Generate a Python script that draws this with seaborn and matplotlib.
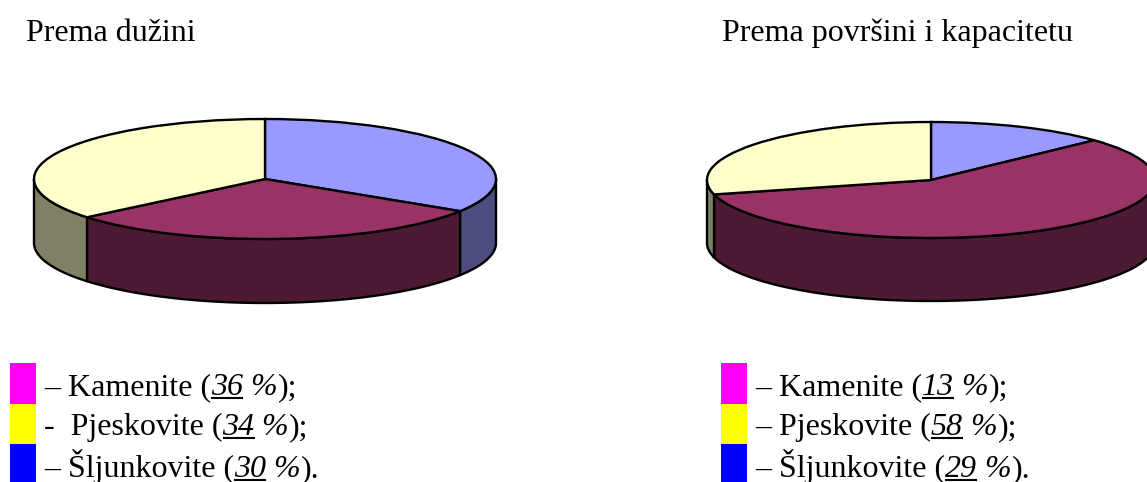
import numpy as np
import matplotlib
matplotlib.use("Agg")
import matplotlib.pyplot as plt
import seaborn as sns

# slice sizes, clockwise from the top
slice_names = ["blue", "maroon", "yellow"]
left_values = [34, 30, 36]
right_values = [13, 58, 29]

titles = ["Prema dužini", "Prema površini i kapacitetu"]

legend_names = ["Kamenite", "Pjeskovite", "Šljunkovite"]
legend_left = ["36", "34", "30"]
legend_right = ["13", "58", "29"]
legend_dash_left = ["– ", "-  ", "– "]
legend_dash_right = ["– ", "– ", "– "]

top_colors = sns.color_palette(["#9999FF", "#993366", "#FFFFCC"])
side_colors = sns.color_palette(["#4D4D80", "#4D1A33", "#808066"])
swatch_colors = sns.color_palette(["#FF00FF", "#FFFF00", "#0000FF"])

sns.set_theme(style="white")
plt.rcParams["font.family"] = ["Liberation Serif", "DejaVu Serif"]

W, H = 1147, 482
FONT = 23
fig = plt.figure(figsize=(W / 100, H / 100), dpi=100, facecolor="white")


def draw_pie(values, cx, cy, rx, ry, depth):
    # axes box is placed so that the unit circle lands on the wanted ellipse
    d = depth / ry
    pad = 0.1
    ax = fig.add_axes([(cx - rx * (1 + pad)) / W,
                       1 - (cy + ry * (1 + pad + d)) / H,
                       2 * rx * (1 + pad) / W,
                       ry * (2 + 2 * pad + d) / H])
    ax.patch.set_alpha(0)

    # side walls, only the lower half of the rim shows
    edges = 90 - np.cumsum([0] + list(values)) * 3.6
    for start, end, col in zip(edges[:-1], edges[1:], side_colors):
        a0, a1 = max(end, -180), min(start, 0)
        if a1 <= a0:
            continue
        t = np.radians(np.linspace(a0, a1, 80))
        xs = np.r_[np.cos(t), np.cos(t[::-1])]
        ys = np.r_[np.sin(t), np.sin(t[::-1]) - d]
        ax.fill(xs, ys, facecolor=col, edgecolor="black", linewidth=1.7, joinstyle="round")

    ax.pie(values, startangle=90, counterclock=False, radius=1, colors=top_colors,
           wedgeprops=dict(edgecolor="black", linewidth=1.7))
    ax.set_aspect("auto")
    ax.set_xlim(-1 - pad, 1 + pad)
    ax.set_ylim(-1 - d - pad, 1 + pad)
    ax.axis("off")


draw_pie(left_values, 265, 179, 231, 60, 64)
draw_pie(right_values, 931, 180, 224, 58, 63)

# overlay in pixel coordinates for the texts and the legend strips
ov = fig.add_axes([0, 0, 1, 1])
ov.set_xlim(0, W)
ov.set_ylim(H, 0)
ov.axis("off")
ov.patch.set_alpha(0)

renderer = fig.canvas.get_renderer()


def run(x, y, s, style="normal", underline=False):
    t = ov.text(x, y, s, fontsize=FONT, style=style, va="baseline", ha="left", color="black")
    w = t.get_window_extent(renderer).width
    if s.endswith(" "):
        # trailing blanks are not always counted
        probe = ov.text(0, 0, "n n", fontsize=FONT, style=style)
        probe2 = ov.text(0, 0, "nn", fontsize=FONT, style=style)
        sp = probe.get_window_extent(renderer).width - probe2.get_window_extent(renderer).width
        probe.remove()
        probe2.remove()
        full = ov.text(0, 0, s.rstrip() + "n", fontsize=FONT, style=style)
        nw = ov.text(0, 0, "n", fontsize=FONT, style=style)
        w = full.get_window_extent(renderer).width - nw.get_window_extent(renderer).width
        w += sp * (len(s) - len(s.rstrip()))
        full.remove()
        nw.remove()
    if underline:
        ov.plot([x, x + w], [y + 3, y + 3], color="black", lw=1.5, solid_capstyle="butt")
    return x + w


def draw_legend(x_strip, x_text, pcts, dashes):
    tops = [363, 404, 444]
    bottoms = [404, 444, 482]
    for top, bot, col in zip(tops, bottoms, swatch_colors):
        ov.fill_between([x_strip, x_strip + 26], top, bot, color=col, linewidth=0)
    for name, pct, dash, base in zip(legend_names, pcts, dashes, [395, 435, 477]):
        x = run(x_text, base, dash + name + " (")
        x = run(x, base, pct, style="italic", underline=True)
        x = run(x, base, " %", style="italic")
        run(x, base, ");" if name != legend_names[-1] else ").")


run(26, 41, titles[0])
run(722, 41, titles[1])
draw_legend(10, 44, legend_left, legend_dash_left)
draw_legend(721, 755, legend_right, legend_dash_right)

fig.savefig("out.png", dpi=100)
